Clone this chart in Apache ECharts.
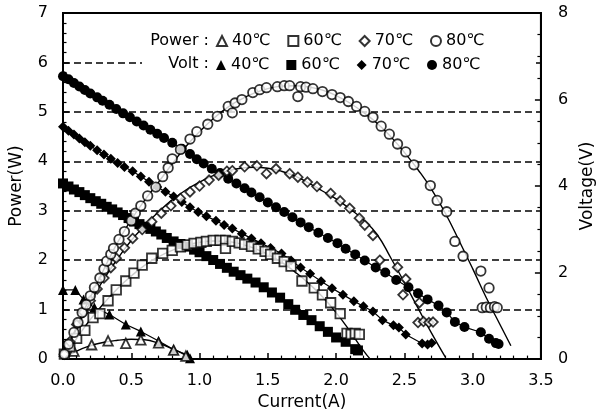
<!DOCTYPE html>
<html>
<head>
<meta charset="utf-8">
<script src="https://cdn.jsdelivr.net/npm/echarts@6/dist/echarts.min.js"></script>
<style>html,body{margin:0;padding:0;background:#fff}#c{width:604px;height:416px}</style>
</head>
<body>
<div id="c"></div>
<script>
// ---- data (Current A, Power W / Voltage V) ----
const tempLabels = ['40℃', '60℃', '70℃', '80℃'];

const p40 = [[0.01,0.16],[0.08,0.16],[0.21,0.29],[0.33,0.37],[0.46,0.32],[0.57,0.39],[0.70,0.33],[0.81,0.18],[0.90,0.06]];
const v40 = [[0.00,1.60],[0.09,1.60],[0.15,1.38],[0.23,1.19],[0.34,1.03],[0.46,0.80],[0.57,0.64],[0.70,0.42],[0.81,0.22],[0.91,0.10],[0.93,0.02]];
const p40fit = [[0,0],[0.1,0.16],[0.2,0.27],[0.3,0.34],[0.4,0.38],[0.5,0.40],[0.6,0.39],[0.7,0.32],[0.8,0.21],[0.9,0.08],[0.95,0]];

const p60 = [[0.01,0.10],[0.05,0.25],[0.10,0.42],[0.16,0.58],[0.22,0.84],[0.27,0.92],[0.33,1.18],[0.39,1.40],[0.46,1.58],[0.52,1.74],[0.58,1.90],[0.65,2.04],[0.73,2.14],[0.80,2.20],[0.86,2.27],[0.91,2.31],[0.96,2.34],[1.01,2.36],[1.05,2.38],[1.10,2.40],[1.15,2.40],[1.19,2.40],[1.19,2.24],[1.24,2.38],[1.29,2.35],[1.33,2.32],[1.38,2.28],[1.43,2.23],[1.48,2.18],[1.52,2.12],[1.57,2.04],[1.62,1.97],[1.67,1.88],[1.75,1.58],[1.84,1.44],[1.90,1.30],[1.96,1.14],[2.03,0.92],[2.08,0.52],[2.11,0.50],[2.14,0.52],[2.17,0.50]];
const v60 = [[0.00,4.06],[0.04,3.99],[0.08,3.92],[0.12,3.86],[0.16,3.79],[0.20,3.72],[0.24,3.65],[0.28,3.59],[0.32,3.52],[0.36,3.46],[0.40,3.39],[0.44,3.33],[0.48,3.26],[0.52,3.18],[0.56,3.12],[0.60,3.06],[0.64,3.01],[0.68,2.95],[0.72,2.88],[0.76,2.80],[0.81,2.72],[0.86,2.66],[0.91,2.60],[0.96,2.53],[1.00,2.47],[1.05,2.38],[1.10,2.29],[1.15,2.20],[1.20,2.11],[1.25,2.02],[1.30,1.94],[1.35,1.86],[1.41,1.77],[1.47,1.66],[1.53,1.54],[1.59,1.42],[1.65,1.27],[1.70,1.14],[1.76,1.02],[1.82,0.90],[1.88,0.76],[1.94,0.63],[2.00,0.50],[2.07,0.40],[2.14,0.23],[2.16,0.20]];
const p60fit = [[0,0],[0.1,0.42],[0.2,0.80],[0.3,1.13],[0.4,1.43],[0.5,1.68],[0.6,1.90],[0.7,2.07],[0.8,2.20],[0.9,2.30],[1.0,2.36],[1.1,2.39],[1.2,2.38],[1.3,2.33],[1.4,2.24],[1.5,2.12],[1.6,1.96],[1.7,1.76],[1.8,1.53],[1.9,1.26],[2.0,0.94],[2.1,0.57],[2.2,0.17],[2.25,0]];

const p70 = [[0.01,0.10],[0.05,0.35],[0.10,0.70],[0.15,0.95],[0.20,1.18],[0.25,1.42],[0.30,1.64],[0.35,1.85],[0.39,2.04],[0.45,2.25],[0.51,2.44],[0.58,2.62],[0.65,2.78],[0.72,2.95],[0.79,3.10],[0.86,3.25],[0.93,3.38],[1.00,3.50],[1.07,3.62],[1.14,3.72],[1.20,3.80],[1.24,3.81],[1.33,3.89],[1.42,3.91],[1.49,3.75],[1.56,3.85],[1.66,3.75],[1.72,3.68],[1.79,3.58],[1.86,3.49],[1.96,3.35],[2.03,3.20],[2.10,3.05],[2.17,2.85],[2.21,2.71],[2.27,2.50],[2.32,2.00],[2.45,1.86],[2.51,1.62],[2.49,1.30],[2.61,1.14],[2.60,0.74],[2.64,0.76],[2.68,0.74],[2.71,0.75]];
const v70 = [[0.00,5.37],[0.04,5.28],[0.08,5.19],[0.12,5.10],[0.16,5.01],[0.20,4.93],[0.25,4.83],[0.30,4.73],[0.35,4.63],[0.40,4.53],[0.45,4.44],[0.51,4.34],[0.57,4.22],[0.63,4.10],[0.69,3.98],[0.75,3.87],[0.81,3.76],[0.87,3.63],[0.93,3.51],[0.99,3.40],[1.05,3.30],[1.12,3.20],[1.18,3.10],[1.24,3.02],[1.31,2.90],[1.38,2.79],[1.45,2.68],[1.52,2.57],[1.60,2.44],[1.67,2.28],[1.74,2.12],[1.81,1.97],[1.89,1.80],[1.97,1.64],[2.05,1.49],[2.13,1.34],[2.20,1.22],[2.27,1.10],[2.34,0.90],[2.42,0.78],[2.46,0.73],[2.51,0.57],[2.63,0.36],[2.67,0.34],[2.70,0.37]];
const p70fit = [[0,0],[0.1,0.62],[0.2,1.15],[0.3,1.62],[0.4,2.03],[0.5,2.40],[0.6,2.70],[0.7,2.98],[0.8,3.22],[0.9,3.42],[1.0,3.58],[1.1,3.71],[1.2,3.80],[1.3,3.86],[1.4,3.88],[1.5,3.86],[1.6,3.80],[1.7,3.70],[1.8,3.56],[1.9,3.40],[2.0,3.24],[2.1,3.04],[2.2,2.82],[2.3,2.52],[2.4,2.05],[2.5,1.55],[2.6,1.03],[2.7,0.52],[2.8,0.04]];

const p80 = [[0.01,0.10],[0.04,0.30],[0.08,0.54],[0.11,0.74],[0.14,0.94],[0.17,1.10],[0.20,1.28],[0.23,1.45],[0.27,1.64],[0.30,1.82],[0.32,1.98],[0.35,2.12],[0.37,2.24],[0.41,2.42],[0.45,2.58],[0.50,2.80],[0.53,2.95],[0.57,3.10],[0.62,3.30],[0.68,3.48],[0.73,3.69],[0.77,3.87],[0.80,4.05],[0.86,4.24],[0.93,4.45],[0.98,4.60],[1.06,4.75],[1.13,4.91],[1.21,5.11],[1.24,4.98],[1.26,5.18],[1.31,5.25],[1.39,5.39],[1.44,5.45],[1.49,5.49],[1.57,5.51],[1.62,5.53],[1.66,5.53],[1.72,5.31],[1.74,5.51],[1.78,5.50],[1.83,5.47],[1.90,5.41],[1.97,5.35],[2.03,5.29],[2.09,5.21],[2.15,5.11],[2.21,5.01],[2.27,4.89],[2.33,4.71],[2.39,4.55],[2.45,4.35],[2.51,4.19],[2.57,3.93],[2.69,3.51],[2.74,3.21],[2.81,2.98],[2.87,2.38],[2.93,2.08],[3.06,1.78],[3.12,1.44],[3.07,1.04],[3.10,1.05],[3.13,1.04],[3.16,1.06],[3.18,1.04]];
const v80 = [[0.00,6.54],[0.04,6.47],[0.08,6.38],[0.12,6.30],[0.16,6.22],[0.20,6.14],[0.25,6.05],[0.29,5.97],[0.34,5.88],[0.39,5.78],[0.44,5.68],[0.49,5.59],[0.54,5.49],[0.59,5.40],[0.64,5.30],[0.69,5.21],[0.74,5.11],[0.80,5.00],[0.87,4.86],[0.93,4.74],[0.98,4.62],[1.03,4.52],[1.09,4.40],[1.15,4.30],[1.21,4.17],[1.27,4.06],[1.33,3.95],[1.38,3.85],[1.44,3.74],[1.50,3.62],[1.56,3.51],[1.62,3.40],[1.68,3.28],[1.74,3.16],[1.80,3.05],[1.87,2.92],[1.94,2.80],[2.01,2.68],[2.07,2.55],[2.14,2.42],[2.21,2.28],[2.29,2.12],[2.36,2.00],[2.44,1.83],[2.53,1.66],[2.60,1.52],[2.67,1.38],[2.75,1.24],[2.81,1.08],[2.87,0.86],[2.94,0.74],[3.06,0.62],[3.12,0.47],[3.17,0.37],[3.19,0.35]];
const p80fit = [[0,0],[0.1,0.66],[0.2,1.25],[0.3,1.82],[0.4,2.36],[0.5,2.82],[0.6,3.22],[0.7,3.58],[0.8,3.95],[0.9,4.30],[1.0,4.60],[1.1,4.86],[1.2,5.08],[1.3,5.25],[1.4,5.38],[1.5,5.47],[1.6,5.52],[1.7,5.53],[1.8,5.50],[1.9,5.44],[2.0,5.33],[2.1,5.18],[2.2,4.99],[2.3,4.77],[2.4,4.50],[2.5,4.18],[2.6,3.83],[2.7,3.43],[2.8,2.95],[2.9,2.40],[3.0,1.83],[3.1,1.24],[3.2,0.70],[3.28,0.27]];

const FONT = 'DejaVu Sans, Noto Sans CJK KR, sans-serif';
const BLK = '#000';

function powerSeries(name, data, symbol) {
  return {name, type:'scatter', data, symbol, symbolSize:9.5, yAxisIndex:0, z:4,
    itemStyle:{color:'#fff', borderColor:BLK, borderWidth:1.8}};
}
function voltSeries(name, data, symbol) {
  return {name, type:'line', data, symbol, symbolSize:10, yAxisIndex:1, z:3, showSymbol:true,
    lineStyle:{color:BLK, width:1.2}, itemStyle:{color:BLK, borderColor:BLK, borderWidth:0}};
}
function fitSeries(data) {
  return {type:'line', data, smooth:true, showSymbol:false, symbol:'none', yAxisIndex:0, z:2,
    lineStyle:{color:BLK, width:1.4}, silent:true, legendHoverLink:false};
}

const symbols = ['triangle','rect','diamond','circle'];
const pData = [p40, p60, p70, p80];
const vData = [v40, v60, v70, v80];
const fitData = [p40fit, p60fit, p70fit, p80fit];

const series = [];
fitData.forEach(d => series.push(fitSeries(d)));
vData.forEach((d,i) => series.push(voltSeries('Volt ' + tempLabels[i], d, symbols[i])));
pData.forEach((d,i) => series.push(powerSeries('Power ' + tempLabels[i], d, symbols[i])));

const axisCommon = {
  axisLine:{show:true, onZero:false, lineStyle:{color:BLK, width:2}},
  axisTick:{show:true, inside:true, length:6, lineStyle:{color:BLK, width:1.5}},
  minorTick:{show:true, length:3.5, lineStyle:{color:BLK, width:1.2}},
  axisLabel:{fontSize:16, color:BLK, fontFamily:FONT},
  nameTextStyle:{fontSize:17, color:BLK, fontFamily:FONT}
};

const legendCommon = {
  orient:'horizontal', itemWidth:10, itemHeight:10, itemGap:17, padding:0, z:30,
  formatter: n => n.split(' ')[1],
  textStyle:{fontSize:16, color:BLK, fontFamily:FONT, width:50}
};

const chart = echarts.init(document.getElementById('c'), null, {renderer:'canvas'});
chart.setOption({
  animation:false,
  backgroundColor:'#fff',
  grid:{left:61, right:56, top:13, bottom:54, show:true, borderColor:BLK, borderWidth:2, backgroundColor:'transparent'},
  xAxis:Object.assign({}, axisCommon, {
    type:'value', min:0, max:3.5, interval:0.5,
    minorTick:Object.assign({}, axisCommon.minorTick, {splitNumber:5}),
    splitLine:{show:false},
    axisLabel:Object.assign({}, axisCommon.axisLabel, {margin:14, formatter:v => v.toFixed(1)}),
    name:'Current(A)', nameLocation:'middle', nameGap:33
  }),
  yAxis:[
    Object.assign({}, axisCommon, {
      type:'value', min:0, max:7, interval:1, position:'left',
      minorTick:Object.assign({}, axisCommon.minorTick, {splitNumber:5}),
      splitLine:{show:true, lineStyle:{color:BLK, width:1.5, type:[7,4]}},
      axisLabel:Object.assign({}, axisCommon.axisLabel, {margin:15}),
      name:'Power(W)', nameLocation:'middle', nameGap:38, nameRotate:90
    }),
    Object.assign({}, axisCommon, {
      type:'value', min:0, max:8, interval:2, position:'right',
      minorTick:Object.assign({}, axisCommon.minorTick, {splitNumber:4}),
      splitLine:{show:false},
      axisLabel:Object.assign({}, axisCommon.axisLabel, {margin:17}),
      name:'Voltage(V)', nameLocation:'middle', nameGap:36, nameRotate:90
    })
  ],
  legend:[
    Object.assign({}, legendCommon, {left:216, top:33,
      data:tempLabels.map((t,i) => ({name:'Power ' + t, icon:symbols[i]}))}),
    Object.assign({}, legendCommon, {left:216, top:57,
      data:tempLabels.map((t,i) => ({name:'Volt ' + t, icon:symbols[i]}))})
  ],
  graphic:[
    {type:'rect', z:10, shape:{x:142, y:29, width:394, height:46}, style:{fill:'#fff'}},
    {type:'text', z:11, x:209, y:41, style:{text:'Power :', font:'16px DejaVu Sans', fill:BLK, align:'right', verticalAlign:'middle'}},
    {type:'text', z:11, x:209, y:64, style:{text:'Volt :', font:'16px DejaVu Sans', fill:BLK, align:'right', verticalAlign:'middle'}}
  ],
  series
});
</script>
</body>
</html>
